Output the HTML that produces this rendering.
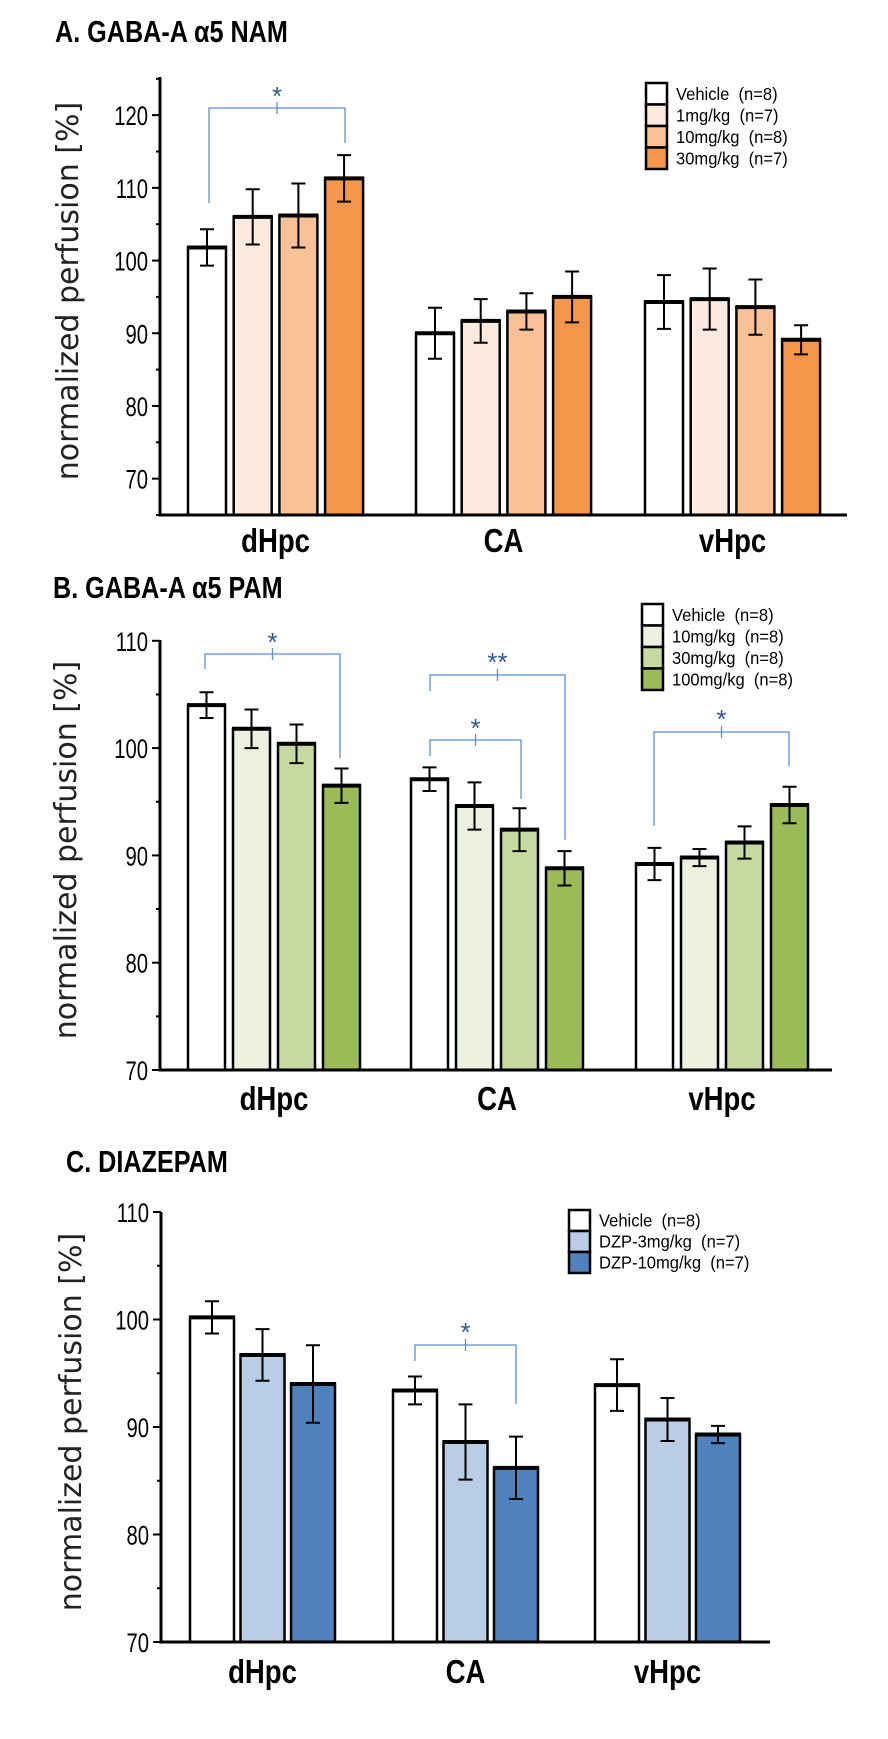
<!DOCTYPE html>
<html><head><meta charset="utf-8"><style>
body{margin:0;background:#fff;width:888px;height:1739px;overflow:hidden}
svg{display:block}
.ttl{font-family:"Liberation Sans Narrow","Liberation Sans",sans-serif;font-weight:bold;font-size:28px}
.tick{font-family:"Liberation Sans Narrow","Liberation Sans",sans-serif;font-size:27px}
.cat{font-family:"Liberation Sans",sans-serif;font-weight:bold;font-size:29px}
.leg{font-family:"Liberation Sans Narrow","Liberation Sans",sans-serif;font-size:18px;white-space:pre}
.yl{font-family:"DejaVu Sans","Liberation Sans",sans-serif;font-size:30px;fill:#222}
.star{font-family:"Liberation Sans",sans-serif;font-size:26px;fill:#2f5a8c}
</style></head><body>
<svg id="c" width="888" height="1739"></svg>
<script>
const categories=["dHpc","CA","vHpc"];
const aSeries=["Vehicle  (n=8)","1mg/kg  (n=7)","10mg/kg  (n=8)","30mg/kg  (n=7)"];
const aValues=[[101.8,90,94.3],[106,91.7,94.7],[106.2,93,93.6],[111.3,95,89.1]];
const aErrors=[[2.5,3.5,3.7],[3.8,3,4.2],[4.4,2.5,3.8],[3.2,3.5,2]];
const aTicks=[70,80,90,100,110,120];
const bSeries=["Vehicle  (n=8)","10mg/kg  (n=8)","30mg/kg  (n=8)","100mg/kg  (n=8)"];
const bValues=[[104,97.1,89.2],[101.8,94.6,89.8],[100.4,92.4,91.2],[96.5,88.8,94.7]];
const bErrors=[[1.2,1.1,1.5],[1.8,2.2,0.8],[1.8,2,1.5],[1.6,1.6,1.7]];
const bTicks=[70,80,90,100,110];
const cSeries=["Vehicle  (n=8)","DZP-3mg/kg  (n=7)","DZP-10mg/kg  (n=7)"];
const cValues=[[100.2,93.4,93.9],[96.7,88.6,90.7],[94,86.2,89.3]];
const cErrors=[[1.5,1.3,2.4],[2.4,3.5,2],[3.6,2.9,0.8]];
const cTicks=[70,80,90,100,110];

const NS="http://www.w3.org/2000/svg";
const svg=document.getElementById('c');
function mk(tag,attrs,parent,text){const e=document.createElementNS(NS,tag);for(const k in attrs)e.setAttribute(k,attrs[k]);if(text!==undefined)e.textContent=text;(parent||svg).appendChild(e);return e;}

function panel(o){
  const g=mk('g',{});
  
  
  const y=v=>o.y0-(v-o.dmin)*o.ppu;
  const t=mk('text',{x:0,y:0,class:'ttl',transform:`translate(${o.tx},${o.ty}) scale(0.9,1.1)`},g,o.title);
  
  
  const yl=mk('text',{x:0,y:0,class:'yl','text-anchor':'middle',transform:`translate(${o.ylx},${o.yly}) rotate(-90)`},g,'normalized perfusion [%]');
  
  
  o.values.forEach((ser,s)=>{ser.forEach((v,c)=>{
    const x=o.gx[c]+s*o.step;
    const r=mk('rect',{x:x,y:y(v),width:o.bw,height:o.base-y(v),fill:o.colors[s],stroke:'#000','stroke-width':2.5},g);
    
    
    mk('line',{x1:x-1,x2:x+o.bw+1,y1:y(v),y2:y(v),stroke:'#000','stroke-width':4},g);
    const e=o.errors[s][c],cx=x+o.bw/2;
    const eb=mk('path',{d:`M${cx},${y(v+e)}V${y(v-e)}M${cx-7},${y(v+e)}H${cx+7}M${cx-7},${y(v-e)}H${cx+7}`,stroke:'#000','stroke-width':2,fill:'none'},g);
    
    
  });});
  const ax=mk('path',{d:`M${o.ax},${o.top}V${o.base}H${o.right}`,stroke:'#000','stroke-width':3,fill:'none'},g);
  
  
  for(let v=o.dmin;v<=o.dmax+0.01;v+=5){
    const major=o.ticks.includes(v);
    mk('line',{x1:o.ax-(major?8:4),x2:o.ax,y1:y(v),y2:y(v),stroke:'#000','stroke-width':2},g);
  }
  o.ticks.forEach(v=>{
    const tl=mk('text',{x:0,y:0,class:'tick','text-anchor':'end',transform:`translate(${o.ax-12},${y(v)+10}) scale(0.75,1)`},g,String(v));
    
    
  });
  categories.forEach((c,i)=>{
    const n=o.values.length;
    const cx=o.gx[i]+((n-1)*o.step+o.bw)/2;
    const cl=mk('text',{x:0,y:0,class:'cat','text-anchor':'middle',transform:`translate(${cx},${o.cy}) scale(0.95,1.15)`},g,c);
    
    
  });
  o.series.forEach((s,i)=>{
    const ly=o.ly+i*o.lh;
    const lb=mk('rect',{x:o.lx,y:ly,width:21,height:o.lh,fill:o.colors[i],stroke:'#000','stroke-width':2.5},g);
    
    
    const lt=mk('text',{x:0,y:0,class:'leg',transform:`translate(${o.lx+30},${ly+o.lh/2+6}) scale(0.92,1)`},g,s);
    
    
  });
  o.brackets.forEach(b=>{
    const p=mk('path',{d:`M${b.x1},${b.l}V${b.y}H${b.x2}V${b.r}M${(b.x1+b.x2)/2},${b.y-6}V${b.y+6}`,stroke:'#5b8fd6','stroke-width':1.3,fill:'none'},g);
    
    
    const st=mk('text',{x:(b.x1+b.x2)/2,y:b.sy,class:'star','text-anchor':'middle'},g,b.s);
    
    
  });
}

panel({name:'panel-a-nam',title:'A. GABA-A \u03b15 NAM',tx:55,ty:42,ylx:78,yly:291,
  values:aValues,errors:aErrors,ticks:aTicks,series:aSeries,
  colors:['#ffffff','#fdeade','#f9c195','#f4974a'],
  dmin:65,dmax:125,y0:515,ppu:7.27,ax:160,top:77,base:515,right:847,
  gx:[188,416,645],step:45.7,bw:38,cy:552,lx:646,ly:83,lh:21.5,
  brackets:[{x1:209,x2:345,y:108,l:203,r:143,s:'*',sy:105}]});
panel({name:'panel-b-pam',title:'B. GABA-A \u03b15 PAM',tx:53,ty:598,ylx:76,yly:850,
  values:bValues,errors:bErrors,ticks:bTicks,series:bSeries,
  colors:['#ffffff','#ebf0df','#c5d9a0','#9bbb59'],
  dmin:70,dmax:110,y0:1070,ppu:10.73,ax:160,top:640,base:1070,right:832,
  gx:[188,411,636],step:45,bw:37,cy:1110,lx:642,ly:604,lh:21.5,
  brackets:[{x1:205,x2:340,y:654,l:669,r:758,s:'*',sy:651},
            {x1:430,x2:565,y:675,l:691,r:840,s:'**',sy:671},
            {x1:430,x2:521,y:740,l:756,r:799,s:'*',sy:737},
            {x1:654,x2:789,y:732,l:826,r:766,s:'*',sy:728}]});
panel({name:'panel-c-diazepam',title:'C. DIAZEPAM',tx:66,ty:1172,ylx:81,yly:1422,
  values:cValues,errors:cErrors,ticks:cTicks,series:cSeries,
  colors:['#ffffff','#b9cde5','#4f81bd'],
  dmin:70,dmax:110,y0:1642,ppu:10.75,ax:161,top:1212,base:1642,right:770,
  gx:[190,393,595],step:50.5,bw:44,cy:1683,lx:569,ly:1210,lh:21,
  brackets:[{x1:415,x2:516,y:1345,l:1361,r:1404,s:'*',sy:1341}]});
</script>
</body></html>
